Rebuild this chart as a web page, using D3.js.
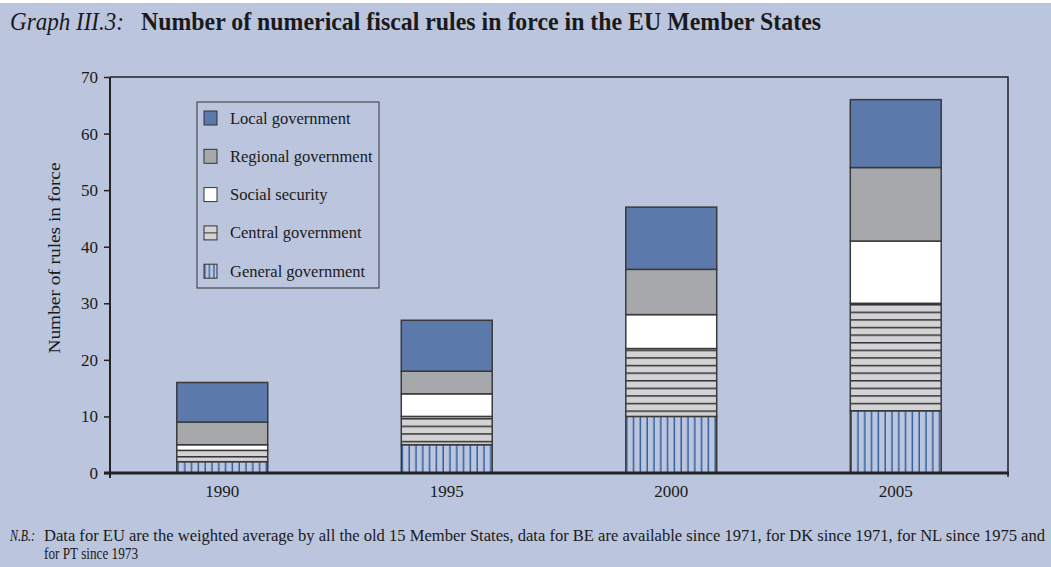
<!DOCTYPE html>
<html>
<head>
<meta charset="utf-8">
<script src="https://cdn.jsdelivr.net/npm/d3@7"></script>
<style>
  html, body { margin: 0; padding: 0; background: #bbc5de; }
  svg { display: block; }
  text { font-family: "Liberation Serif", "Times New Roman", serif; fill: #1a1a1a; }
</style>
</head>
<body>
<script>
const years = ["1990", "1995", "2000", "2005"];
const seriesNames = ["General government", "Central government", "Social security", "Regional government", "Local government"];
const generalGov = [2, 5, 10, 11];
const centralGov = [2, 5, 12, 19];
const socialSec = [1, 4, 6, 11];
const regionalGov = [4, 4, 8, 13];
const localGov = [7, 9, 11, 12];
const yTicks = [0, 10, 20, 30, 40, 50, 60, 70];

const W = 1051, H = 567;
const svg = d3.select("body").append("svg").attr("width", W).attr("height", H);
svg.append("rect").attr("width", W).attr("height", H).attr("fill", "#bbc5de");
svg.append("rect").attr("width", W).attr("height", 3).attr("fill", "#ffffff");

const defs = svg.append("defs");
// horizontal line pattern (central government)
const ph = defs.append("pattern").attr("id", "hlines").attr("patternUnits", "userSpaceOnUse")
  .attr("width", 10).attr("height", 7.6);
ph.append("rect").attr("width", 10).attr("height", 7.6).attr("fill", "#d3d3d5");
ph.append("rect").attr("y", 0).attr("width", 10).attr("height", 1.5).attr("fill", "#333");
// vertical line pattern (general government)
const pv = defs.append("pattern").attr("id", "vlines").attr("patternUnits", "userSpaceOnUse")
  .attr("width", 6.8).attr("height", 10);
pv.append("rect").attr("width", 6.8).attr("height", 10).attr("fill", "#bbc5de");
pv.append("rect").attr("x", 0.5).attr("width", 1.4).attr("height", 10).attr("fill", "#2a5a98");

const fills = {
  "General government": "url(#vlines)",
  "Central government": "url(#hlines)",
  "Social security": "#ffffff",
  "Regional government": "#a7a8ab",
  "Local government": "#5b79aa"
};
const legendFills = {
  "General government": "url(#vlinesL)",
  "Central government": "#d3d3d5",
  "Social security": "#ffffff",
  "Regional government": "#a7a8ab",
  "Local government": "#5b79aa"
};

const plotL = 110, plotR = 1008, plotT = 77, plotB = 473;
const x = d3.scaleBand().domain(years).range([plotL, plotR]).paddingInner(0.595).paddingOuter(0.2975);
const y = d3.scaleLinear().domain([0, 70]).range([plotB, plotT]);

// data table
const table = years.map((yr, i) => ({
  year: yr,
  "General government": generalGov[i],
  "Central government": centralGov[i],
  "Social security": socialSec[i],
  "Regional government": regionalGov[i],
  "Local government": localGov[i]
}));
const stacked = d3.stack().keys(seriesNames)(table);

// frame (top and right)
svg.append("path")
  .attr("d", `M${plotL},${plotT}H${plotR}V${plotB + 4}`)
  .attr("fill", "none").attr("stroke", "#222").attr("stroke-width", 1.5);

// bars
stacked.forEach(s => {
  svg.append("g").selectAll("rect").data(s).join("rect")
    .attr("x", d => x(d.data.year))
    .attr("y", d => y(d[1]))
    .attr("width", x.bandwidth())
    .attr("height", d => y(d[0]) - y(d[1]))
    .attr("fill", fills[s.key])
    .attr("stroke", "#3a3a3a")
    .attr("stroke-width", 1.5);
});

// y axis
const yAxis = d3.axisLeft(y).tickValues(yTicks).tickSize(6).tickPadding(6);
const gy = svg.append("g").attr("transform", `translate(${plotL},0)`).call(yAxis);
gy.select(".domain").attr("stroke", "#222").attr("stroke-width", 2).attr("d", `M0,${plotT}V${plotB + 5}`);
gy.selectAll(".tick line").attr("stroke", "#222").attr("stroke-width", 1.5).attr("x1", -6).attr("x2", 0);
gy.selectAll(".tick text").attr("font-size", 17).attr("font-family", "Liberation Serif, serif").attr("fill", "#1a1a1a");

// x axis
const xAxis = d3.axisBottom(x).tickSize(0).tickPadding(12);
const gx = svg.append("g").attr("transform", `translate(0,${plotB})`).call(xAxis);
gx.select(".domain").attr("stroke", "#222").attr("stroke-width", 3).attr("d", `M${plotL - 6},0H${plotR + 1}`);
gx.selectAll(".tick text").attr("font-size", 17).attr("font-family", "Liberation Serif, serif").attr("fill", "#1a1a1a");

// y label
svg.append("text")
  .attr("transform", `translate(60,${(plotT + plotB) / 2 - 17}) rotate(-90)`)
  .attr("text-anchor", "middle")
  .attr("font-size", 17.5)
  .attr("textLength", 191).attr("lengthAdjust", "spacingAndGlyphs")
  .text("Number of rules in force");

// legend
const legendOrder = ["Local government", "Regional government", "Social security", "Central government", "General government"];
const lg = svg.append("g");
lg.append("rect").attr("x", 197).attr("y", 102).attr("width", 182).attr("height", 186)
  .attr("fill", "none").attr("stroke", "#333").attr("stroke-width", 1);
const pvl = defs.append("pattern").attr("id", "vlinesL").attr("patternUnits", "userSpaceOnUse")
  .attr("width", 4.5).attr("height", 10).attr("x", 204);
pvl.append("rect").attr("width", 4.5).attr("height", 10).attr("fill", "#bbc5de");
pvl.append("rect").attr("x", 0.3).attr("width", 1.2).attr("height", 10).attr("fill", "#2a5a98");
legendOrder.forEach((k, i) => {
  const cy = 118 + i * 38.3;
  lg.append("rect").attr("x", 204).attr("y", cy - 7).attr("width", 13).attr("height", 14)
    .attr("fill", legendFills[k]).attr("stroke", "#333").attr("stroke-width", 1);
  if (k === "Central government") {
    lg.append("line").attr("x1", 204).attr("x2", 217).attr("y1", cy).attr("y2", cy)
      .attr("stroke", "#333").attr("stroke-width", 1);
  }
  lg.append("text").attr("x", 230).attr("y", cy + 5.5).attr("font-size", 16.5).text(k);
});

// title
svg.append("text").attr("x", 10).attr("y", 30).attr("font-size", 24.5).attr("font-style", "italic")
  .attr("textLength", 114).attr("lengthAdjust", "spacingAndGlyphs").text("Graph III.3:");
svg.append("text").attr("x", 141).attr("y", 30).attr("font-size", 24.5).attr("font-weight", "bold")
  .attr("textLength", 680).attr("lengthAdjust", "spacingAndGlyphs")
  .text("Number of numerical fiscal rules in force in the EU Member States");

// footnote
svg.append("text").attr("x", 10).attr("y", 541).attr("font-size", 16.5).attr("font-style", "italic")
  .attr("textLength", 25).attr("lengthAdjust", "spacingAndGlyphs").text("N.B.:");
svg.append("text").attr("x", 44).attr("y", 541).attr("font-size", 16.5)
  .attr("textLength", 1001).attr("lengthAdjust", "spacingAndGlyphs")
  .text("Data for EU are the weighted average by all the old 15 Member States, data for BE are available since 1971, for DK since 1971, for NL since 1975 and");
svg.append("text").attr("x", 44).attr("y", 559).attr("font-size", 16.5)
  .attr("textLength", 94).attr("lengthAdjust", "spacingAndGlyphs")
  .text("for PT since 1973");
</script>
</body>
</html>
